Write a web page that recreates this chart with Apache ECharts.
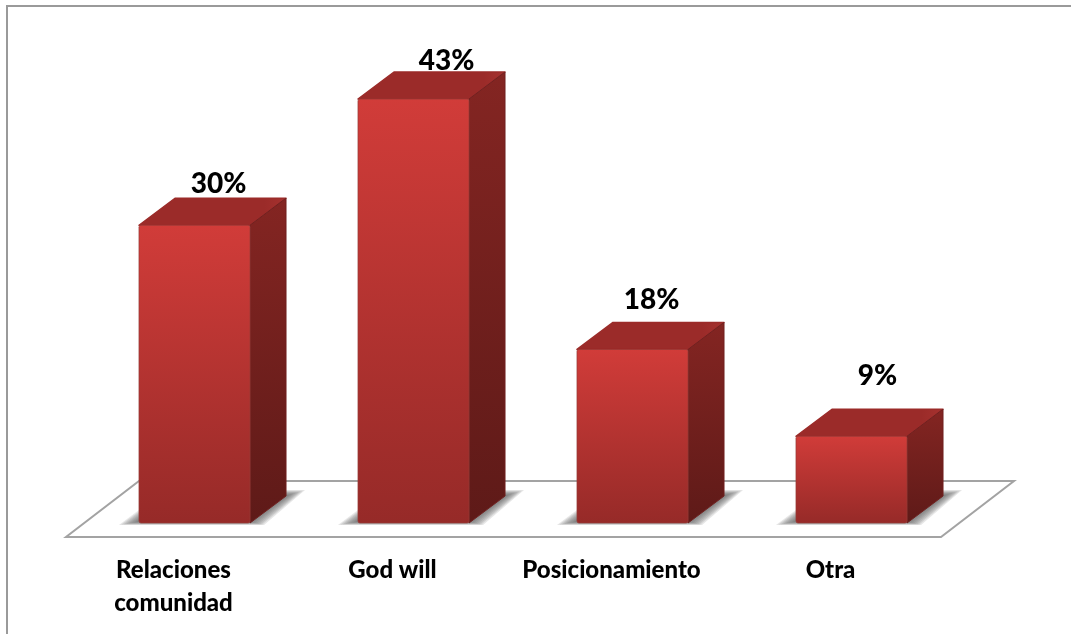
<!DOCTYPE html>
<html>
<head>
<meta charset="utf-8">
<style>
  html, body { margin: 0; padding: 0; background: #fff; }
  #chart { width: 1071px; height: 634px; }
</style>
<script src="https://cdn.jsdelivr.net/npm/echarts@6/dist/echarts.min.js"></script>
</head>
<body>
<div id="chart"></div>
<script>
const categories = ['Relaciones\ncomunidad', 'God will', 'Posicionamiento', 'Otra'];
const barValues = [30.2, 43, 17.6, 8.8];
const valueLabels = ['30%', '43%', '18%', '9%'];

// labels were hand placed in the original, so each has its own nudge from the bar's back top edge
const labelNudgeX = [24, 33, 19, 26];
const labelNudgeY = [-14, -11, -22, -33];

const FONT = 'Lato, "Open Sans", sans-serif';
const DEPTH_X = 36;
const DEPTH_Y = 27;
const SHADOW_LAYERS = 8;

const chart = echarts.init(document.getElementById('chart'), null, { renderer: 'canvas' });

function vGrad(top, bottom) {
  return new echarts.graphic.LinearGradient(0, 0, 0, 1, [
    { offset: 0, color: top },
    { offset: 1, color: bottom }
  ]);
}

function renderFloor(params, api) {
  const cs = params.coordSys;
  const base = api.coord([0, 0])[1];
  const frontY = base + 14;
  const backY = base - 42;
  const left = cs.x - 19;
  const right = cs.x + cs.width - 20;
  return {
    type: 'polygon',
    shape: { points: [[left, frontY], [right, frontY], [right + 73, backY], [left + 73, backY]] },
    style: { fill: '#fff', stroke: '#a3a3a3', lineWidth: 2 }
  };
}

// soft floor shadow, stacked see-through polygons since it has to fade out at the tips
function shadowLayers(x0, x1, base) {
  const out = [];
  for (let k = 0; k < SHADOW_LAYERS; k++) {
    const t = 1 - k / (SHADOW_LAYERS - 1);
    const low = base + 3 * t - 1;
    const high = base - DEPTH_Y - 1 - 5 * t;
    out.push({
      type: 'polygon',
      shape: {
        points: [
          [x0 - 3 - 17 * t, low],
          [x1 + 2 + 12 * t, low],
          [x1 + DEPTH_X + 3 + 16 * t, high],
          [x1, high],
          [x0, base - 3 - 10 * t]
        ]
      },
      style: { fill: 'rgba(85,85,85,0.15)' }
    });
  }
  return out;
}

function renderBar(params, api) {
  const i = api.value(0);
  const top = api.coord([i, api.value(1)]);
  const base = api.coord([i, 0])[1];
  const w = api.size([1, 0])[0] * 0.507;
  const x0 = top[0] - w / 2;
  const x1 = x0 + w;
  const y0 = top[1];
  const dx = DEPTH_X;
  const dy = DEPTH_Y;
  return {
    type: 'group',
    children: shadowLayers(x0, x1, base).concat([
      {
        type: 'polygon',
        shape: { points: [[x0, y0], [x0 + dx, y0 - dy], [x1 + dx, y0 - dy], [x1, y0]] },
        style: {
          fill: new echarts.graphic.LinearGradient(0, 0, 1, 0, [
            { offset: 0, color: '#9b2b29' },
            { offset: 0.85, color: '#9b2b29' },
            { offset: 1, color: '#a6322f' }
          ]),
          stroke: '#9b2b29', lineWidth: 1.5, lineJoin: 'round'
        }
      },
      {
        type: 'polygon',
        shape: { points: [[x1, y0], [x1 + dx, y0 - dy], [x1 + dx, base - dy], [x1, base]] },
        style: { fill: vGrad('#842522', '#5e1a18'), stroke: '#702120', lineWidth: 1, lineJoin: 'round' }
      },
      {
        type: 'rect',
        shape: { x: x0, y: y0, width: w, height: base - y0, r: 2 },
        style: { fill: vGrad('#d13c39', '#962a28'), stroke: 'rgba(150,60,55,0.7)', lineWidth: 1 }
      },
      {
        type: 'text',
        style: {
          x: top[0] + labelNudgeX[i],
          y: y0 - dy + labelNudgeY[i],
          text: valueLabels[i],
          fill: '#000',
          font: '900 28px ' + FONT,
          align: 'center',
          verticalAlign: 'middle'
        }
      }
    ])
  };
}

chart.setOption({
  animation: false,
  backgroundColor: '#fff',
  graphic: [{
    type: 'polyline',
    silent: true,
    shape: { points: [[7, 634], [7, 6], [1071, 6]] },
    style: { stroke: '#9a9a9a', lineWidth: 2, fill: null }
  }],
  grid: { left: 85, width: 876, top: 30, bottom: 111 },
  xAxis: {
    type: 'category',
    data: categories,
    axisLine: { show: false },
    axisTick: { show: false },
    axisLabel: {
      color: '#000',
      fontFamily: FONT,
      fontWeight: 900,
      fontSize: 24,
      lineHeight: 33,
      margin: 31,
      interval: 0,
      padding: [0, 42, 0, 0]
    }
  },
  yAxis: { type: 'value', min: 0, max: 50, show: false },
  series: [
    { type: 'custom', z: 1, silent: true, data: [[0, 0]], renderItem: renderFloor, encode: { x: 0, y: 1 } },
    { type: 'custom', z: 2, silent: true, data: barValues.map((v, i) => [i, v]), renderItem: renderBar, encode: { x: 0, y: 1 } }
  ]
});
</script>
</body>
</html>
